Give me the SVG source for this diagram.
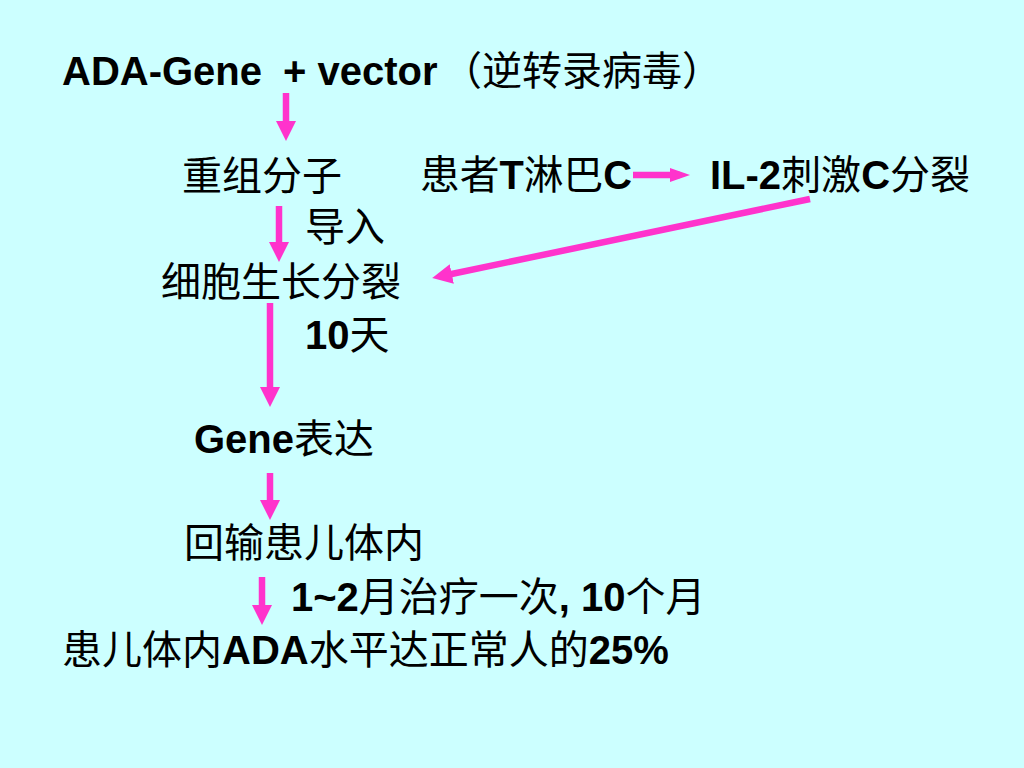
<svg xmlns="http://www.w3.org/2000/svg" width="1024" height="768" viewBox="0 0 1024 768">
<style>
text{font-family:"Liberation Sans","Noto Sans CJK SC",sans-serif;font-size:40px;fill:#000}
.b{font-weight:bold}
.arr{stroke:#FF33CC;stroke-width:6.5;fill:none}
</style>
<defs>
<marker id="ah" markerUnits="userSpaceOnUse" markerWidth="20" markerHeight="20" viewBox="0 0 20 20" refX="10" refY="10" orient="auto">
<path d="M0,0 L20,10 L0,20 z" fill="#FF33CC"/>
</marker>
<marker id="ahs" markerUnits="userSpaceOnUse" markerWidth="20" markerHeight="14" viewBox="0 0 20 14" refX="10" refY="7" orient="auto">
<path d="M0,0 L20,7 L0,14 z" fill="#FF33CC"/>
</marker>
</defs>
<rect width="1024" height="768" fill="#CCFFFF"/>
<g id="n1"><text x="62" y="85"><tspan class="b">ADA-Gene</tspan><tspan class="b" x="283">+ vector</tspan><tspan x="442">（逆转录病毒）</tspan></text></g>
<g id="n2"><text x="182" y="190">重组分子</text></g>
<g id="n3"><text x="420" y="189" textLength="212" lengthAdjust="spacingAndGlyphs">患者<tspan class="b">T</tspan>淋巴<tspan class="b">C</tspan></text></g>
<g id="n4"><text x="710" y="189"><tspan class="b">IL-2</tspan>刺激<tspan class="b">C</tspan>分裂</text></g>
<g id="l1"><text x="305" y="241">导入</text></g>
<g id="n5"><text x="161" y="296">细胞生长分裂</text></g>
<g id="l2"><text x="305" y="349"><tspan class="b">10</tspan>天</text></g>
<g id="n6"><text x="194" y="453"><tspan class="b">Gene</tspan>表达</text></g>
<g id="n7"><text x="184" y="557">回输患儿体内</text></g>
<g id="l3"><text x="291" y="611"><tspan class="b">1~2</tspan>月治疗一次<tspan class="b">, 10</tspan>个月</text></g>
<g id="n8"><text x="62" y="664">患儿体内<tspan class="b">ADA</tspan>水平达正常人的<tspan class="b">25%</tspan></text></g>
<g id="connectors">
<line class="arr" x1="286" y1="93" x2="286" y2="131" marker-end="url(#ah)"/>
<line class="arr" x1="279" y1="206" x2="279" y2="252" marker-end="url(#ah)"/>
<line class="arr" x1="270" y1="303" x2="270" y2="397" marker-end="url(#ah)"/>
<line class="arr" x1="270" y1="473" x2="270" y2="510" marker-end="url(#ah)"/>
<line class="arr" x1="262" y1="577" x2="262" y2="615" marker-end="url(#ah)"/>
<line class="arr" x1="633" y1="175" x2="680" y2="175" marker-end="url(#ahs)"/>
<line class="arr" x1="810" y1="199" x2="442" y2="276" marker-end="url(#ah)"/>
</g>
</svg>
